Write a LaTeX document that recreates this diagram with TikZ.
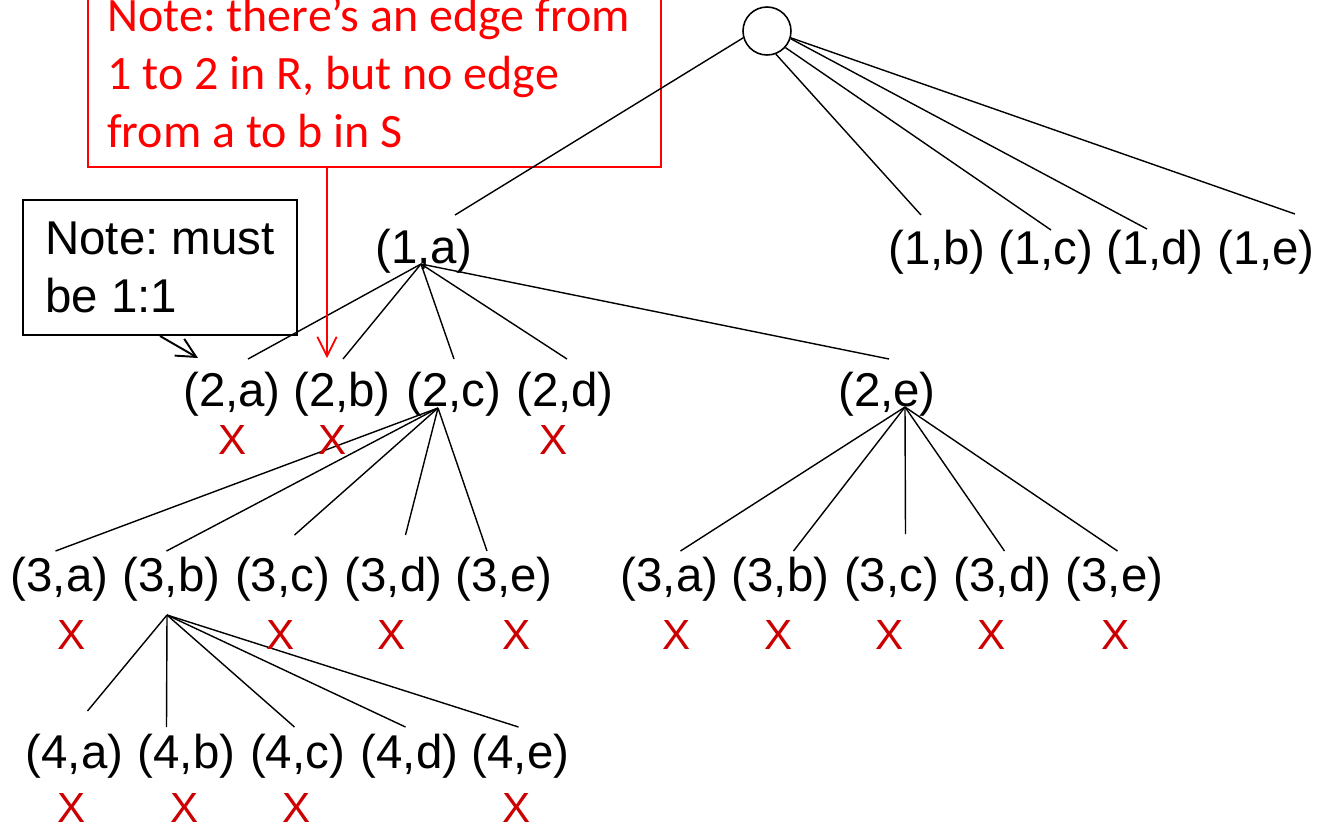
\documentclass[tikz,border=0pt]{standalone}
\usepackage{fontspec}
\setmainfont{Liberation Sans}
\newfontfamily\notefont{Carlito}
\usetikzlibrary{calc,arrows.meta}
\definecolor{notered}{RGB}{255,0,0}
\definecolor{xred}{RGB}{204,0,0}
\frenchspacing
\tikzset{
  pair/.style={font=\fontsize{27}{33}\selectfont, inner sep=0pt},
  xmark/.style={text=xred, font=\fontsize{24}{28}\selectfont, inner sep=0pt},
  edge/.style={line width=0.8pt},
}
\begin{document}
\begin{tikzpicture}[x=0.02cm,y=-0.02cm,>={Straight Barb[length=11pt,width=11pt]}]
        \useasboundingbox (0,0) rectangle (1322,826);
        \clip (0,0) rectangle (1322,826);
        % notes
        \node[draw=notered, line width=1pt, anchor=south west,
              minimum width=11.46cm, minimum height=4.56cm] (rednote) at (87,168) {};
        \node[text=notered, anchor=north west, align=left, inner sep=0pt,
              font=\notefont\fontsize{27.3}{33}\selectfont] (redtext) at (107,-3)
              {Note: there’s an edge from\\1 to 2 in R, but no edge\\from a to b in S};
        \node[draw, line width=1.1pt, anchor=north west, align=left,
              minimum width=5.48cm, inner xsep=0.4cm, inner ysep=0.44cm,
              font=\fontsize{27}{33}\selectfont] (blknote) at (22,199) {Note: must\\be 1:1};
        % tree
        \node[draw, circle, line width=0.9pt, minimum size=0.96cm, inner sep=0pt] (root) at (767,31) {};
        \node[pair] (n1a) at (424,251) {(1,a)};
        \foreach \c/\x in {b/937,c/1046,d/1155,e/1266}
        {
            \node[pair] (n1\c) at (\x,252) {(1,\c)};
        }
        \foreach \c/\x in {a/232,b/342,c/454,d/565,e/887}
        {
            \node[pair] (n2\c) at (\x,394) {(2,\c)};
        }
        \foreach \c/\x/\y in {a/59.5/c,b/171.5/c,c/282.5/c,d/393.5/c,e/504/c,
                              a/669.5/e,b/780.5/e,c/891.5/e,d/1002.5/e,e/1114.5/e}
        {
            \node[pair] (\y3\c) at (\x,579) {(3,\c)};
        }
        \foreach \c/\x in {a/74.5,b/186.5,c/297.5,d/409.5,e/520.5}
        {
            \node[pair] (n4\c) at (\x,756) {(4,\c)};
        }
        \coordinate (f1a) at (421,264);
        \coordinate (f2c) at (438,408);
        \coordinate (f2e) at (905,407);
        \coordinate (f3b) at (167,615);
        % edges
        \foreach \c/\a/\dx/\dy in {a/196/31/-36,b/291/-16/-37,c/318/5/-22,d/342/-8/-23,e/344/29/-38}
        {
            \draw[edge] (root.\a)--($(n1\c)+(\dx,\dy)$);
        }
        \foreach \c/\dx in {a/16,b/1,c/0,d/2,e/2}
        {
            \draw[edge] (f1a)--($(n2\c)+(\dx,-35)$);
        }
        \foreach \c/\dx/\dy in {a/-4/-28,b/-5/-28,c/12/-44,d/12/-44,e/-17/-28}
        {
            \draw[edge] (f2c)--($(c3\c)+(\dx,\dy)$);
        }
        \foreach \c/\dx/\dy in {a/11/-28,b/13/-28,c/14/-45,d/2/-28,e/3/-28}
        {
            \draw[edge] (f2e)--($(e3\c)+(\dx,\dy)$);
        }
        \foreach \c/\dx/\dy in {a/13/-45,b/-20/-29,c/-3/-29,d/-4/-29,e/-2/-29}
        {
            \draw[edge] (f3b)--($(n4\c)+(\dx,\dy)$);
        }
        \draw[line width=1pt,notered,->] ($(rednote.south west)+(240,0)$)--($(n2b)+(-15,-36)$);
        \draw[line width=1.1pt,->] ($(blknote.south west)+(138,0)$)--($(n2a)+(-34,-36)$);
        % crossed out
        \foreach \n/\x/\y in {x2a/233/440,x2b/333/440,x2d/554/440,
                              xc3a/72/635,xc3c/281/635,xc3d/392/635,xc3e/517/635,
                              xe3a/677/635,xe3b/779/635,xe3c/890/635,xe3d/992/635,xe3e/1116/635,
                              x4a/72/808,x4b/185/808,x4c/297/808,x4e/517/808}
        {
            \node[xmark] (\n) at (\x,\y) {X};
        }
    \end{tikzpicture}
\end{document}
